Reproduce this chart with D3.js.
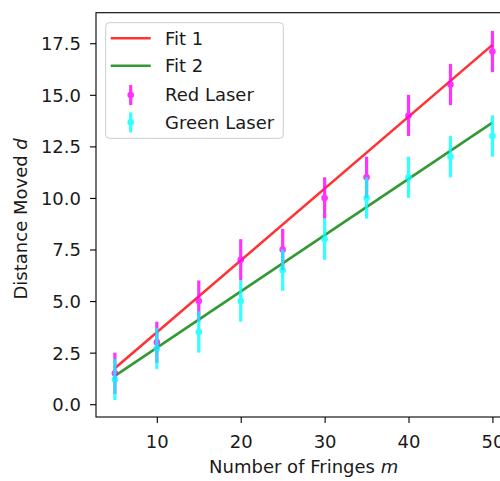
<!DOCTYPE html>
<html>
<head>
<meta charset="utf-8">
<script src="https://cdn.jsdelivr.net/npm/d3@7"></script>
<style>
  body { margin: 0; background: #fff; }
  text { font-family: "DejaVu Sans", sans-serif; fill: #1a1a1a; }
</style>
</head>
<body>
<div id="chart"></div>
<script>
// fringes counted
const fringes = [5, 10, 15, 20, 25, 30, 35, 40, 45, 50]
// distance moved
const redLaser = [1.5, 3, 5, 7, 7.5, 10, 11, 14, 15.5, 17.1]
const redErr = [1, 1, 1, 1, 1, 1, 1, 1, 1, 1]
const greenLaser = [1.2, 2.7, 3.5, 5, 6.5, 8, 10, 11, 12, 13]
const greenErr = [1, 1, 1, 1, 1, 1, 1, 1, 1, 1]
// fit line end points
const fitX = [5, 50]
const fit1 = [1.74, 17.42]
const fit2 = [1.37, 13.65]
const xTicks = [10, 20, 30, 40, 50]
const yTicks = [0, 2.5, 5, 7.5, 10, 12.5, 15, 17.5]

const width = 500, height = 481
const fs = 18
const plot = { left: 96, right: 511.3, top: 12.7, bottom: 417 }

const xScale = d3.scaleLinear().domain([2.75, 52.25]).range([plot.left, plot.right])
const yScale = d3.scaleLinear().domain([-0.62, 18.98]).range([plot.bottom, plot.top])

const svg = d3.select("#chart")
    .append("svg")
    .attr("width", width)
    .attr("height", height)

svg.append("rect").attr("width", width).attr("height", height).attr("fill", "#fff")

// fit lines
const line = d3.line()
    .x(d => xScale(d[0]))
    .y(d => yScale(d[1]))

function addFit(vals, color) {
    svg.append("path")
        .datum(fitX.map((x, i) => [x, vals[i]]))
        .attr("d", line)
        .attr("fill", "none")
        .attr("stroke", color)
        .attr("stroke-width", 2.6)
        .attr("stroke-opacity", 0.8)
}
addFit(fit1, "#ff0000")
addFit(fit2, "#008000")

// errorbars
function addErrorbars(vals, errs, color) {
    const g = svg.append("g").attr("opacity", 0.8)
    g.selectAll("line")
        .data(fringes)
        .enter().append("line")
        .attr("x1", d => xScale(d))
        .attr("x2", d => xScale(d))
        .attr("y1", (d, i) => yScale(vals[i] - errs[i]))
        .attr("y2", (d, i) => yScale(vals[i] + errs[i]))
        .attr("stroke", color)
        .attr("stroke-width", 3.2)
    g.selectAll("circle")
        .data(fringes)
        .enter().append("circle")
        .attr("cx", d => xScale(d))
        .attr("cy", (d, i) => yScale(vals[i]))
        .attr("r", 3.3)
        .attr("fill", color)
}
addErrorbars(redLaser, redErr, "#ff00ff")
addErrorbars(greenLaser, greenErr, "#00ffff")

// axes
const xAxis = d3.axisBottom(xScale)
    .tickValues(xTicks)
    .tickSize(6)
    .tickPadding(6)
    .tickFormat(d3.format("d"))

const yAxis = d3.axisLeft(yScale)
    .tickValues(yTicks)
    .tickSize(6)
    .tickPadding(9)
    .tickFormat(d3.format(".1f"))

const gx = svg.append("g")
    .attr("transform", `translate(0,${plot.bottom})`)
    .call(xAxis)
const gy = svg.append("g")
    .attr("transform", `translate(${plot.left},0)`)
    .call(yAxis)

for (const g of [gx, gy]) {
    g.select(".domain").remove()
    g.selectAll(".tick line").attr("stroke", "#000").attr("stroke-width", 1.1)
    g.selectAll(".tick text")
        .attr("font-size", fs)
        .attr("font-family", "DejaVu Sans")
        .attr("fill", "#1a1a1a")
}
gx.selectAll(".tick text").attr("dy", null).attr("y", 31)
gy.selectAll(".tick text").attr("dy", "0.36em")

// spines
svg.append("rect")
    .attr("x", plot.left)
    .attr("y", plot.top)
    .attr("width", plot.right - plot.left)
    .attr("height", plot.bottom - plot.top)
    .attr("fill", "none")
    .attr("stroke", "#000")
    .attr("stroke-width", 1.1)

// axis labels
const xl = svg.append("text")
    .attr("x", (plot.left + plot.right) / 2)
    .attr("y", 473)
    .attr("text-anchor", "middle")
    .attr("font-size", fs)
xl.append("tspan").text("Number of Fringes ")
xl.append("tspan").attr("font-style", "italic").text("m")

const yl = svg.append("text")
    .attr("transform", `translate(26.5,${(plot.top + plot.bottom) / 2 + 4}) rotate(-90)`)
    .attr("text-anchor", "middle")
    .attr("font-size", fs)
yl.append("tspan").text("Distance Moved ")
yl.append("tspan").attr("font-style", "italic").text("d")

// legend
const legendItems = [
    { label: "Fit 1", color: "#ff0000", type: "line" },
    { label: "Fit 2", color: "#008000", type: "line" },
    { label: "Red Laser", color: "#ff00ff", type: "err" },
    { label: "Green Laser", color: "#00ffff", type: "err" }
]
const legend = svg.append("g")
legend.append("rect")
    .attr("x", 105.7)
    .attr("y", 22.7)
    .attr("width", 177.6)
    .attr("height", 115.6)
    .attr("rx", 3.5)
    .attr("fill", "#fff")
    .attr("fill-opacity", 0.8)
    .attr("stroke", "#cccccc")
    .attr("stroke-width", 1)

const rowY = [38.3, 65.8, 95, 122.4]
legendItems.forEach((d, i) => {
    const y = rowY[i]
    if (d.type === "line") {
        legend.append("line")
            .attr("x1", 110.7).attr("x2", 150.7)
            .attr("y1", y).attr("y2", y)
            .attr("stroke", d.color)
            .attr("stroke-width", 2.6)
            .attr("stroke-opacity", 0.8)
    } else {
        const h = legend.append("g").attr("opacity", 0.8)
        h.append("line")
            .attr("x1", 130.7).attr("x2", 130.7)
            .attr("y1", y - 10).attr("y2", y + 10)
            .attr("stroke", d.color)
            .attr("stroke-width", 3.2)
        h.append("circle")
            .attr("cx", 130.7).attr("cy", y).attr("r", 3.3)
            .attr("fill", d.color)
    }
    legend.append("text")
        .attr("x", 165)
        .attr("y", y + 6.4)
        .attr("font-size", fs)
        .text(d.label)
})
</script>
</body>
</html>
